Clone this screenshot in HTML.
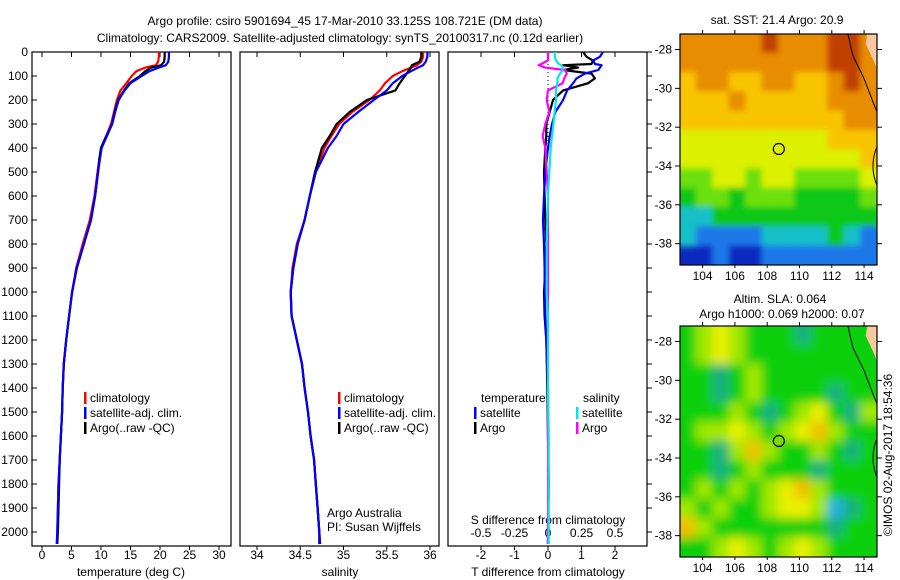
<!DOCTYPE html>
<html><head><meta charset="utf-8"><title>Argo profile</title>
<style>
html,body{margin:0;padding:0;background:#fff;}
svg{display:block;font-family:"Liberation Sans",sans-serif;}
text{font-size:12px;fill:#000;}
</style></head>
<body>
<svg id="fig" width="900" height="580" viewBox="0 0 900 580" xmlns="http://www.w3.org/2000/svg">
<defs>
<clipPath id="cp1"><rect x="32" y="52" width="199" height="494"/></clipPath>
<clipPath id="cp2"><rect x="240" y="52" width="199" height="494"/></clipPath>
<clipPath id="cp3"><rect x="448" y="52" width="199" height="494"/></clipPath>
<clipPath id="cpm1"><rect x="680" y="34" width="197" height="231"/></clipPath>
<clipPath id="cpm2"><rect x="680" y="326" width="197" height="231"/></clipPath>
<filter id="blur" filterUnits="userSpaceOnUse" x="660" y="0" width="240" height="580"><feGaussianBlur stdDeviation="5"/></filter>
<filter id="blur2" filterUnits="userSpaceOnUse" x="660" y="0" width="240" height="580"><feGaussianBlur stdDeviation="3"/></filter>
</defs>
<text x="345" y="25" text-anchor="middle">Argo profile: csiro 5901694_45 17-Mar-2010 33.125S 108.721E (DM data)</text>
<text x="340" y="42" text-anchor="middle">Climatology: CARS2009. Satellite-adjusted climatology: synTS_20100317.nc (0.12d earlier)</text>
<text x="777" y="24" text-anchor="middle">sat. SST: 21.4 Argo: 20.9</text>
<text x="780" y="303" text-anchor="middle">Altim. SLA: 0.064</text>
<text x="782" y="318" text-anchor="middle">Argo h1000: 0.069 h2000: 0.07</text>
<text transform="translate(892,455) rotate(-90)" text-anchor="middle">©IMOS 02-Aug-2017 18:54:36</text>
</svg>
<script>
// ---- profile data ----
const depths = [0,20,40,55,65,80,100,130,160,200,250,300,350,400,450,500,600,700,800,900,1000,1100,1200,1300,1400,1500,1600,1700,1800,1900,2000,2050];
const tempArgo = [20.8,20.8,20.7,20.2,18.5,17.5,16.6,14.8,13.9,12.9,12.3,11.9,10.9,10.0,9.7,9.5,9.0,8.3,7.1,5.9,5.1,4.6,4.1,3.7,3.5,3.4,3.2,3.0,2.9,2.8,2.7,2.6];
const tempSat = [21.5,21.5,21.4,21.0,19.8,18.2,16.9,15.0,14.0,13.0,12.4,11.9,11.0,10.1,9.8,9.5,9.0,8.3,7.1,5.9,5.1,4.6,4.1,3.7,3.5,3.4,3.2,3.0,2.8,2.7,2.6,2.5];
const tempClim = [19.8,19.8,19.7,19.3,17.5,16.0,15.2,14.3,13.3,12.7,12.2,11.7,10.9,10.0,9.7,9.4,8.9,8.1,6.9,5.8,5.1,4.6,4.1,3.7,3.5,3.4,3.2,3.0,2.8,2.7,2.6,2.5];
const salArgo = [35.90,35.90,35.88,35.79,35.78,35.75,35.71,35.65,35.60,35.27,35.07,34.92,34.84,34.75,34.71,34.67,34.61,34.55,34.47,34.42,34.39,34.40,34.46,34.52,34.55,34.59,34.62,34.66,34.68,34.70,34.72,34.72];
const salSat = [35.97,35.97,35.95,35.92,35.86,35.78,35.68,35.57,35.50,35.35,35.17,35.00,34.92,34.82,34.75,34.68,34.61,34.55,34.47,34.42,34.39,34.40,34.46,34.52,34.55,34.59,34.62,34.66,34.68,34.70,34.72,34.73];
const salClim = [35.92,35.92,35.90,35.85,35.78,35.68,35.57,35.48,35.42,35.30,35.10,34.95,34.86,34.78,34.73,34.68,34.61,34.55,34.46,34.41,34.39,34.40,34.46,34.52,34.55,34.59,34.62,34.66,34.68,34.70,34.72,34.73];
const diffDepths = [0,20,35,50,55,65,75,90,110,130,160,200,250,300,350,400,500,600,700,800,900,1000,1100,1200,1400,1600,1800,2000,2050];
const dTSat = [1.64,1.55,1.35,1.40,1.60,1.55,1.50,1.10,0.85,0.75,0.57,0.45,0.22,0.12,0.05,0.0,-0.08,-0.12,-0.15,-0.12,-0.10,-0.10,-0.08,-0.05,0,0,0.02,0,0];
const dTArgo = [1.05,1.15,1.34,1.3,0.45,0.9,0.45,1.3,1.4,1.2,0.45,0.15,0.05,-0.05,-0.05,-0.08,-0.12,-0.10,-0.08,-0.05,-0.08,-0.12,-0.10,-0.05,-0.02,0.0,0.02,0,0];
const dSSat = [0.05,0.05,0.06,0.08,0.10,0.11,0.11,0.09,0.07,0.07,0.06,0.06,0.05,0.04,0.03,0.02,0.01,0.0,-0.005,-0.01,-0.01,-0.01,0,0,0,0.005,0.005,0.005,0.005];
const dSArgo = [0,0,0,-0.05,-0.07,-0.02,0.13,0.14,0.12,0.11,0.0,-0.01,0.01,-0.02,-0.04,-0.02,-0.01,0,0,0,0,0,0,0,0,0,0,0,0];
const depthTicks = [0,100,200,300,400,500,600,700,800,900,1000,1100,1200,1300,1400,1500,1600,1700,1800,1900,2000];
const tempTicks = [0,5,10,15,20,25,30];
const salTicks = [34,34.5,35,35.5,36];
const dTTicks = [-2,-1,0,1,2];
const dSTicks = [-0.5,-0.25,0,0.25,0.5];
// ---- map data (rows north->south, cols west->east, ~1 deg) ----
const sstGrid = [
[7,7,7,7,7,8,7,7,7,8,8,7],
[7,7,7,7,7,7,7,7,7,8,8,7],
[6,7,7,6,6,7,7,6,6,7,8,7],
[6,6,6,7,6,6,6,6,6,7,7,7],
[6,6,6,6,6,6,6,6,6,6,7,7],
[5,5,5,5,5,5,5,5,5,6,6,6],
[5,5,5,5,5,5,5,5,5,5,5,6],
[4,4,5,5,4,5,5,4,4,4,4,5],
[3,4,4,3,4,4,4,3,3,3,3,4],
[2,2,3,3,3,3,3,3,3,3,3,3],
[2,1,1,1,1,2,2,2,2,3,2,1],
[0,0,1,0,0,1,1,1,1,1,1,1]];
const slaGrid = [
[3,4,5,4,3,3,3,2,3,3,3,3],
[3,4,5,4,3,3,3,3,3,3,3,3],
[3,3,2,3,4,3,3,3,3,3,3,3],
[3,3,2,3,4,3,3,3,3,2,3,3],
[3,3,3,4,3,2,3,4,5,3,2,4],
[3,4,4,5,4,3,4,5,6,4,3,3],
[3,3,2,4,6,4,3,3,4,3,2,3],
[3,3,2,3,4,3,3,3,2,3,3,3],
[3,4,3,4,3,4,5,6,4,3,3,3],
[4,3,4,3,3,4,5,5,4,1,2,3],
[6,4,3,3,3,3,3,3,3,2,3,3],
[3,3,4,5,4,3,4,5,4,3,3,3]];
const latTicks = [-28,-30,-32,-34,-36,-38];
const lonTicks = [104,106,108,110,112,114];
const argoLon = 108.721, argoLat = -33.125;

const NS = "http://www.w3.org/2000/svg";
const svg = document.getElementById('fig');
function mk(tag, attrs, parent){ const e=document.createElementNS(NS,tag); for(const k in attrs) e.setAttribute(k,attrs[k]); (parent||svg).appendChild(e); return e; }
function txt(x,y,s,anchor,parent){ const t=mk('text',{x:x,y:y,'text-anchor':anchor||'start'},parent); t.textContent=s; return t; }

const yD = d => 52 + 0.24*d;
const xT = t => 42 + 5.9*t;
const xS = s => 257 + 86.5*(s-34);
const xDT = v => 548 + 33.5*v;
const xDS = v => 548 + 134*v;

function line(xs, ys, xf, yf, color, clip, name, w){
  let p=''; for(let i=0;i<xs.length;i++){ p += (i?'L':'M')+xf(xs[i]).toFixed(1)+','+yf(ys[i]).toFixed(1); }
  const e = mk('path',{d:p,fill:'none',stroke:color,'stroke-width':w||2.2,'clip-path':'url(#'+clip+')','stroke-linejoin':'round'});
  
  
  return e;
}

function panel(x0, clip, name){
  const r = mk('rect',{x:x0,y:52,width:199,height:494,fill:'none',stroke:'#000','stroke-width':1.2});
  
  
}
panel(32,'cp1','temperature-panel');
panel(240,'cp2','salinity-panel');
panel(448,'cp3','difference-panel');

depthTicks.forEach(d=>{
  const t = txt(28, yD(d)+4, String(d), 'end');
  
  
  mk('line',{x1:32,x2:37,y1:yD(d),y2:yD(d),stroke:'#000'});
  mk('line',{x1:647,x2:652,y1:yD(d),y2:yD(d),stroke:'#000'});
});
function xaxis(ticks, f, y, labelFmt, top){
  ticks.forEach(v=>{
    const x=f(v);
    mk('line',{x1:x,x2:x,y1:546,y2:550,stroke:'#000'});
    if(top) mk('line',{x1:x,x2:x,y1:52,y2:57,stroke:'#000'});
    const t = txt(x, y, labelFmt(v), 'middle');
    
    
  });
}
xaxis(tempTicks, xT, 559, v=>String(v), true);
xaxis(salTicks, xS, 559, v=>String(v), true);
xaxis(dTTicks, xDT, 559, v=>String(v), true);
dSTicks.forEach(v=>{
  const t = txt(xDS(v), 537, String(v), 'middle');
  
  
});
let at;
at = txt(131,576,'temperature (deg C)','middle');  
at = txt(340,576,'salinity','middle');  
at = txt(548,576,'T difference from climatology','middle');  
at = txt(548,524,'S difference from climatology','middle');  

const zl = mk('line',{x1:548,x2:548,y1:56,y2:150,stroke:'#000','stroke-dasharray':'1,3'});



line(tempClim, depths, xT, yD, '#ff0000', 'cp1', 'temp-climatology-line');
line(tempArgo, depths, xT, yD, '#000000', 'cp1', 'temp-argo-line');
line(tempSat, depths, xT, yD, '#0000ff', 'cp1', 'temp-satellite-line');
line(salClim, depths, xS, yD, '#ff0000', 'cp2', 'sal-climatology-line');
line(salArgo, depths, xS, yD, '#000000', 'cp2', 'sal-argo-line');
line(salSat, depths, xS, yD, '#0000ff', 'cp2', 'sal-satellite-line');
line(dTArgo, diffDepths, xDT, yD, '#000000', 'cp3', 't-diff-argo-line');
line(dTSat, diffDepths, xDT, yD, '#0000ff', 'cp3', 't-diff-satellite-line');
line(dSArgo, diffDepths, xDS, yD, '#ff00ff', 'cp3', 's-diff-argo-line');
line(dSSat, diffDepths, xDS, yD, '#00e8e8', 'cp3', 's-diff-satellite-line');

function legend(x, y, color, label, name){
  const g = mk('g',{});
  
  
  mk('rect',{x:x,y:y-10,width:2.5,height:12,fill:color},g);
  txt(x+6, y, label, 'start', g);
}
legend(84,402,'#ff0000','climatology','legend-temp-climatology');
legend(84,417,'#0000ff','satellite-adj. clim.','legend-temp-satellite');
legend(84,432,'#000000','Argo(..raw -QC)','legend-temp-argo');
legend(338,402,'#ff0000','climatology','legend-sal-climatology');
legend(338,417,'#0000ff','satellite-adj. clim.','legend-sal-satellite');
legend(338,432,'#000000','Argo(..raw -QC)','legend-sal-argo');
at = txt(481,402,'temperature');  
at = txt(583,402,'salinity');  
legend(474,417,'#0000ff','satellite','legend-tdiff-satellite');
legend(474,432,'#000000','Argo','legend-tdiff-argo');
legend(576,417,'#00e8e8','satellite','legend-sdiff-satellite');
legend(576,432,'#ff00ff','Argo','legend-sdiff-argo');
at = txt(327,517,'Argo Australia');  
at = txt(327,531,'PI: Susan Wijffels');  

// ---- maps ----
const sstPal = ['#0a2ac0','#1a78e8','#18c0c8','#10c818','#6ce010','#dcf000','#f8c400','#e88c00','#c04000'];
const slaPal = ['#1060e0','#20b0e0','#18b080','#10d010','#a0e800','#e8f000','#f0c000'];
function drawMap(y0, grid, pal, clip, name, filt){
  const lonMin=102.6, lonMax=114.8, latTop=-27.2, latBot=-39.1;
  const W=197, H=231;
  const px = lon => 680 + (lon-lonMin)/(lonMax-lonMin)*W;
  const py = lat => y0 + (latTop-lat)/(latTop-latBot)*H;
  const g = mk('g',{'clip-path':'url(#'+clip+')'});
  
  
  const inner = mk('g',{filter:'url(#'+filt+')'},g);
  const rows=grid.length, cols=grid[0].length;
  const cw=W/cols, ch=H/rows;
  for(let r=0;r<rows;r++) for(let c=0;c<cols;c++){
    // extend edge cells outward so blur doesn't fade at borders
    const x = 680+c*cw - (c===0?10:0.5), y = y0+r*ch - (r===0?10:0.5);
    const w = cw + 1 + (c===0?10:0) + (c===cols-1?10:0), h = ch + 1 + (r===0?10:0) + (r===rows-1?10:0);
    const cell = mk('rect',{x:x.toFixed(1),y:y.toFixed(1),width:w.toFixed(1),height:h.toFixed(1),fill:pal[grid[r][c]]},inner);
    
    
  }
  const land = mk('path',{d:'M'+px(114.2)+','+y0+' L'+px(114.8)+','+y0+' L'+px(114.8)+','+py(-29.0)+' L'+px(114.6)+','+py(-28.6)+' L'+px(114.1)+','+py(-27.7)+' Z',fill:'#f8c8a0'},g);
  
  
  const coast = mk('path',{d:'M'+px(113.0)+','+y0+' L'+px(113.3)+','+py(-28.3)+' L'+px(114.0)+','+py(-29.5)+' L'+px(114.6)+','+py(-30.8)+' L'+px(114.8)+','+py(-31.2)+' M'+px(114.8)+','+py(-33.0)+' Q'+px(114.3)+','+py(-34.0)+' '+px(114.8)+','+py(-35.0),fill:'none',stroke:'#000','stroke-width':1},g);
  
  
  const fr = mk('rect',{x:680,y:y0,width:W,height:H,fill:'none',stroke:'#000','stroke-width':1.2});
  
  
  const mk1 = mk('circle',{cx:px(argoLon),cy:py(argoLat),r:5.5,fill:'none',stroke:'#000','stroke-width':1.2});
  
  
  latTicks.forEach(v=>{
    const t = txt(672, py(v)+4, String(v), 'end');
    
    
    mk('line',{x1:675,x2:680,y1:py(v),y2:py(v),stroke:'#000'});
    mk('line',{x1:877,x2:882,y1:py(v),y2:py(v),stroke:'#000'});
  });
  lonTicks.forEach(v=>{
    const t = txt(px(v), y0+H+15, String(v), 'middle');
    
    
    mk('line',{x1:px(v),x2:px(v),y1:y0,y2:y0-4,stroke:'#000'});
    mk('line',{x1:px(v),x2:px(v),y1:y0+H,y2:y0+H+3,stroke:'#000'});
  });
}
drawMap(34, sstGrid, sstPal, 'cpm1', 'sst-map', 'blur2');
drawMap(326, slaGrid, slaPal, 'cpm2', 'sla-map', 'blur');
</script>
</body></html>
